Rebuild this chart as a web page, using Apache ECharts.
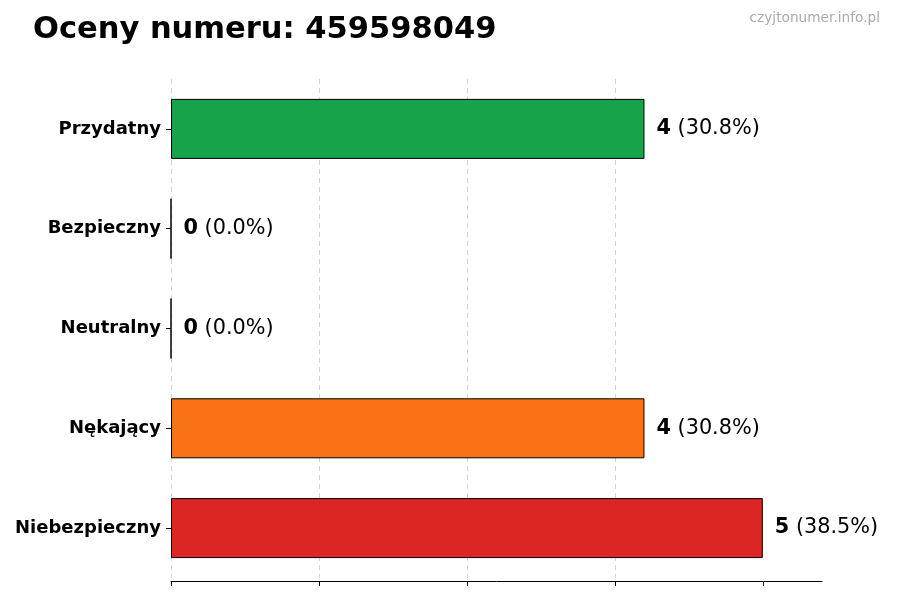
<!DOCTYPE html>
<html>
<head>
<meta charset="utf-8">
<script src="https://cdn.jsdelivr.net/npm/echarts@6/dist/echarts.min.js"></script>
<style>
  html, body { margin: 0; padding: 0; background: #fff; }
  #chart { width: 900px; height: 600px; }
</style>
</head>
<body>
<div id="chart"></div>
<script>
// dane
var categories = ['Przydatny', 'Bezpieczny', 'Neutralny', 'Nękający', 'Niebezpieczny'];
var counts = [4, 0, 0, 4, 5];
var percents = ['30.8%', '0.0%', '0.0%', '30.8%', '38.5%'];
var colors = ['#16a34a', '#9ca3af', '#6b7280', '#f97316', '#dc2626'];
var xTicks = [0, 1.25, 2.5, 3.75, 5];

var chart = echarts.init(document.getElementById('chart'));

var barData = counts.map(function (v, i) {
  return { value: v, itemStyle: { color: colors[i] } };
});

var option = {
  animation: false,
  textStyle: { fontFamily: 'DejaVu Sans' },
  title: [{
    text: 'Oceny numeru: 459598049',
    left: 28, top: 10,
    textStyle: { fontSize: 30.5, fontWeight: 'bold', color: '#000', fontFamily: 'DejaVu Sans' }
  }, {
    text: 'czyjtonumer.info.pl',
    right: 15, top: 6,
    textStyle: { fontSize: 13.7, fontWeight: 'normal', color: '#aaa', fontFamily: 'DejaVu Sans' }
  }],
  grid: { left: 171, right: 78, top: 79, bottom: 22, containLabel: false },
  xAxis: {
    type: 'value',
    min: 0, max: 5.5, interval: 1.25,
    offset: 3,
    axisLine: { show: true, lineStyle: { color: '#000', width: 1 } },
    axisTick: { show: true, length: 5, customValues: xTicks, lineStyle: { color: '#000' } },
    axisLabel: { show: false },
    splitLine: { show: true, showMaxLine: false, lineStyle: { color: '#d4d4d4', type: [5, 4], width: 1 } }
  },
  yAxis: {
    type: 'category',
    inverse: true,
    data: categories,
    axisLine: { show: false },
    axisTick: { show: true, length: 5, alignWithLabel: true, lineStyle: { color: '#000' } },
    axisLabel: { fontSize: 18, fontWeight: 'bold', color: '#000', margin: 10, fontFamily: 'DejaVu Sans' }
  },
  series: [{
    type: 'bar',
    data: barData,
    barWidth: 60,
    itemStyle: { borderColor: '#000', borderWidth: 1 },
    label: {
      show: true,
      position: 'right',
      distance: 12,
      formatter: function (p) {
        return '{b|' + counts[p.dataIndex] + '}{n| (' + percents[p.dataIndex] + ')}';
      },
      rich: {
        b: { fontSize: 20.8, fontWeight: 'bold', color: '#000', fontFamily: 'DejaVu Sans' },
        n: { fontSize: 20.8, color: '#000', fontFamily: 'DejaVu Sans' }
      }
    }
  }]
};

chart.setOption(option);
</script>
</body>
</html>
